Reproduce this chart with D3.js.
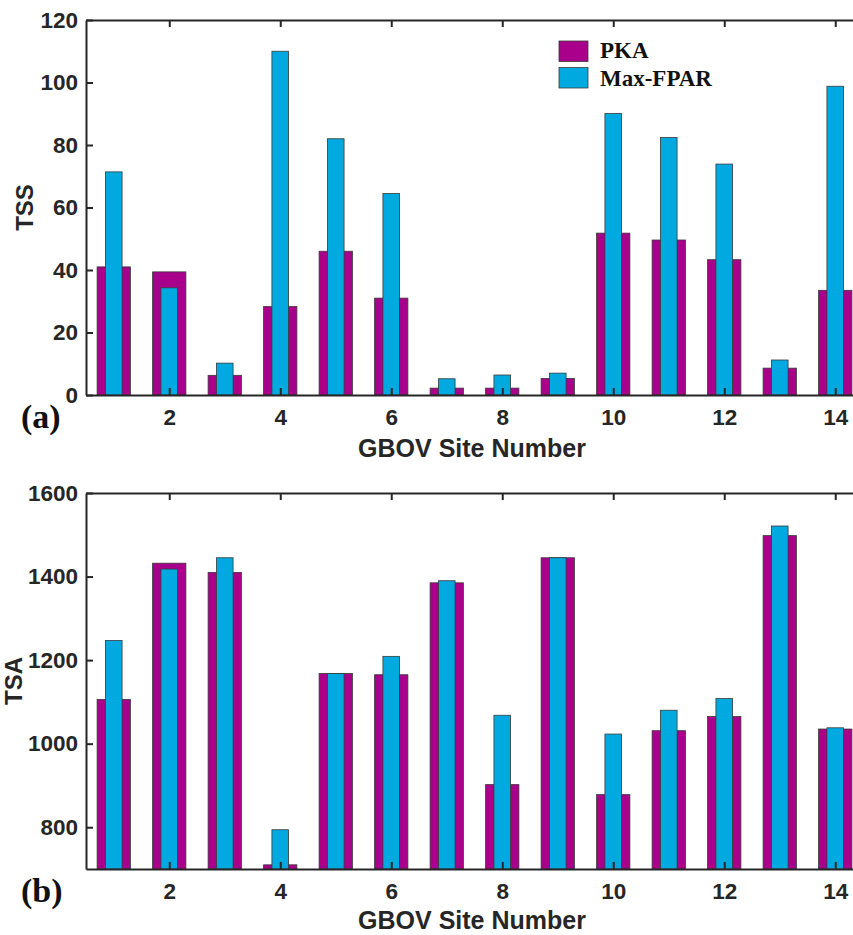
<!DOCTYPE html>
<html>
<head>
<meta charset="utf-8">
<script src="https://cdn.jsdelivr.net/npm/d3@7"></script>
<style>
  html, body { margin: 0; background: #fff; overflow: hidden; }
  svg { display: block; overflow: hidden; }
</style>
</head>
<body>
<div id="chart"></div>
<script>
// site numbers
var sites = [1, 2, 3, 4, 5, 6, 7, 8, 9, 10, 11, 12, 13, 14];
// (a) TSS values
var tssPKA = [41, 39.4, 6.3, 28.3, 46, 31, 2.2, 2.2, 5.3, 51.8, 49.6, 43.3, 8.6, 33.5];
var tssFPAR = [71.4, 34.3, 10.2, 110, 82, 64.5, 5.2, 6.4, 7, 90.1, 82.4, 73.9, 11.2, 98.8];
// (b) TSA values
var tsaPKA = [1106, 1432, 1410, 710, 1168, 1165, 1385, 902, 1445, 878, 1031, 1065, 1498, 1035];
var tsaFPAR = [1247, 1418, 1445, 794, 1168, 1209, 1390, 1068, 1445, 1023, 1080, 1108, 1521, 1038];
// tick labels
var xTicks = [2, 4, 6, 8, 10, 12, 14];
var tssTicks = [0, 20, 40, 60, 80, 100, 120];
var tsaTicks = [800, 1000, 1200, 1400, 1600];

var seriesNames = ["PKA", "Max-FPAR"];
var colors = ["#A8008A", "#00A9E0"];

var width = 853, height = 935;
var left = 86, right = 863;

var svg = d3.select("#chart").append("svg")
  .attr("width", width)
  .attr("height", height);

// the original figure is cropped on the right edge
svg.append("clipPath").attr("id", "page")
  .append("rect").attr("width", width).attr("height", height);
var root = svg.append("g").attr("clip-path", "url(#page)");

var x = d3.scaleLinear().domain([0.5, 14.5]).range([left, right]);
var unit = x(1) - x(0);

function panel(top, bottom, yDomain, yTicks, pka, fpar, yLabel, labelX, xLabelY, tag) {
  var y = d3.scaleLinear().domain(yDomain).range([bottom, top]);
  var g = root.append("g");

  // PKA wide bars
  g.selectAll(".pka").data(sites).enter().append("rect")
    .attr("x", d => x(d) - unit * 0.3)
    .attr("width", unit * 0.6)
    .attr("y", (d, i) => y(pka[i]))
    .attr("height", (d, i) => bottom - y(pka[i]))
    .attr("fill", colors[0])
    .attr("stroke", "#3a3a3a")
    .attr("stroke-width", 0.8);

  // Max-FPAR narrow bars
  g.selectAll(".fpar").data(sites).enter().append("rect")
    .attr("x", d => x(d) - unit * 0.15)
    .attr("width", unit * 0.3)
    .attr("y", (d, i) => y(fpar[i]))
    .attr("height", (d, i) => bottom - y(fpar[i]))
    .attr("fill", colors[1])
    .attr("stroke", "#3a3a3a")
    .attr("stroke-width", 0.8);

  // axes with inward ticks
  var ax = [
    g.append("g").attr("transform", "translate(0," + bottom + ")")
      .call(d3.axisBottom(x).tickValues(xTicks).tickSizeInner(-7).tickSizeOuter(0).tickPadding(14)),
    g.append("g").attr("transform", "translate(0," + top + ")")
      .call(d3.axisTop(x).tickValues(xTicks).tickSizeInner(-7).tickSizeOuter(0).tickFormat("")),
    g.append("g").attr("transform", "translate(" + left + ",0)")
      .call(d3.axisLeft(y).tickValues(yTicks).tickFormat(d3.format("d")).tickSizeInner(-7).tickSizeOuter(0).tickPadding(8)),
    g.append("g").attr("transform", "translate(" + right + ",0)")
      .call(d3.axisRight(y).tickValues(yTicks).tickSizeInner(-7).tickSizeOuter(0).tickFormat(""))
  ];
  ax.forEach(a => {
    a.select(".domain").attr("stroke", "#262626").attr("stroke-width", 2);
    a.selectAll(".tick line").attr("stroke", "#262626").attr("stroke-width", 2);
    a.selectAll(".tick text")
      .attr("fill", "#262626")
      .style("font-family", "Liberation Sans, Arial, sans-serif")
      .style("font-weight", "bold")
      .style("font-size", "22.5px");
  });

  // x label
  g.append("text")
    .attr("x", 472)
    .attr("y", xLabelY)
    .attr("text-anchor", "middle")
    .style("font-family", "Liberation Sans, Arial, sans-serif")
    .style("font-weight", "bold")
    .style("font-size", "25px")
    .attr("fill", "#262626")
    .text("GBOV Site Number");

  // y label
  g.append("text")
    .attr("transform", "translate(" + labelX + "," + ((top + bottom) / 2) + ") rotate(-90)")
    .attr("text-anchor", "middle")
    .style("font-family", "Liberation Sans, Arial, sans-serif")
    .style("font-weight", "bold")
    .style("font-size", "24px")
    .attr("fill", "#262626")
    .text(yLabel);

  // panel tag
  g.append("text")
    .attr("x", 21)
    .attr("y", bottom + 33)
    .style("font-family", "Liberation Serif, Times New Roman, serif")
    .style("font-weight", "bold")
    .style("font-size", "34px")
    .attr("fill", "#111")
    .text(tag);
}

panel(20, 395, [0, 120], tssTicks, tssPKA, tssFPAR, "TSS", 33, 457, "(a)");
panel(493, 869, [700, 1600], tsaTicks, tsaPKA, tsaFPAR, "TSA", 22, 929, "(b)");

// legend
var legend = root.append("g");
seriesNames.forEach((name, i) => {
  legend.append("rect")
    .attr("x", 559)
    .attr("y", 41 + i * 26.5)
    .attr("width", 29)
    .attr("height", 20.5)
    .attr("fill", colors[i])
    .attr("stroke", "#3a3a3a")
    .attr("stroke-width", 0.8);
  legend.append("text")
    .attr("x", 600)
    .attr("y", 58 + i * 27.5)
    .style("font-family", "Liberation Serif, Times New Roman, serif")
    .style("font-weight", "bold")
    .style("font-size", "23px")
    .attr("fill", "#111")
    .text(name);
});
</script>
</body>
</html>
